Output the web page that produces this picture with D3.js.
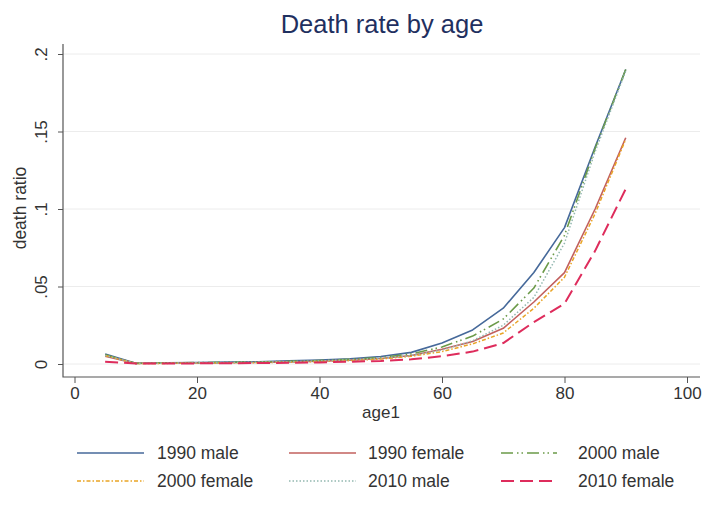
<!DOCTYPE html>
<html>
<head>
<meta charset="utf-8">
<script src="https://cdn.jsdelivr.net/npm/d3@7"></script>
<style>
  body { margin: 0; background: #fff; }
  svg { font-family: "Liberation Sans", Arial, sans-serif; }
</style>
</head>
<body>
<svg id="chart"></svg>
<script>
// data
const ages = [5, 10, 15, 20, 25, 30, 35, 40, 45, 50, 55, 60, 65, 70, 75, 80, 85, 90];
const male1990   = [0.0065, 0.0005, 0.0008, 0.0010, 0.0012, 0.0015, 0.0020, 0.0025, 0.0033, 0.0048, 0.0075, 0.0135, 0.022, 0.036, 0.059, 0.088, 0.140, 0.190];
const female1990 = [0.0050, 0.0004, 0.0005, 0.0006, 0.0008, 0.0010, 0.0013, 0.0018, 0.0025, 0.0035, 0.0055, 0.0095, 0.0145, 0.023, 0.040, 0.059, 0.100, 0.146];
const male2000   = [0.0060, 0.0004, 0.0007, 0.0009, 0.0011, 0.0013, 0.0017, 0.0022, 0.0030, 0.0042, 0.0065, 0.0110, 0.018, 0.029, 0.049, 0.083, 0.139, 0.190];
const female2000 = [0.0055, 0.0003, 0.0004, 0.0005, 0.0007, 0.0009, 0.0012, 0.0016, 0.0022, 0.0032, 0.0050, 0.0080, 0.013, 0.020, 0.036, 0.056, 0.097, 0.145];
const male2010   = [0.0055, 0.0004, 0.0006, 0.0008, 0.0010, 0.0012, 0.0015, 0.0020, 0.0027, 0.0038, 0.0055, 0.0090, 0.015, 0.025, 0.043, 0.078, 0.137, 0.189];
const female2010 = [0.0015, 0.0003, 0.0003, 0.0004, 0.0005, 0.0006, 0.0008, 0.0010, 0.0015, 0.0020, 0.0030, 0.0050, 0.008, 0.0135, 0.027, 0.039, 0.073, 0.113];

const seriesNames = ['1990 male', '1990 female', '2000 male', '2000 female', '2010 male', '2010 female'];
const seriesValues = [male1990, female1990, male2000, female2000, male2010, female2010];
const xTicks = [0, 20, 40, 60, 80, 100];
const yTicks = [0, 0.05, 0.1, 0.15, 0.2];
const yTickLabels = ['0', '.05', '.1', '.15', '.2'];

// styles per series
const colors = ['#46699a', '#c2605e', '#6b9a48', '#e9a425', '#93b8b0', '#de2c5c'];
const dashes = [null, null, '12,4,1.5,3,1.5,4', '4,2,1.5,2', '1.5,2', '13,6'];
const widths = [1.6, 1.6, 1.6, 1.5, 1.5, 2];

let width = 703
let height = 516

let svg = d3.select('#chart')
  .attr('width', width)
  .attr('height', height)

let plotLeft = 63, plotRight = 700, plotTop = 44, plotBottom = 377

let xScale = d3.scaleLinear().domain([0, 100]).range([74.5, 687])
let yScale = d3.scaleLinear().domain([0, 0.2]).range([364, 54])

// grid
svg.append('g')
  .selectAll('line')
  .data(yTicks)
  .enter()
  .append('line')
  .attr('x1', plotLeft)
  .attr('x2', plotRight)
  .attr('y1', d => yScale(d))
  .attr('y2', d => yScale(d))
  .style('stroke', '#ececec')
  .style('stroke-width', 1)

// axes
let xAxis = d3.axisBottom(xScale).tickValues(xTicks).tickSize(6).tickPadding(4)
let yAxis = d3.axisLeft(yScale).tickValues(yTicks).tickSize(5).tickFormat((d, i) => yTickLabels[i])

let gx = svg.append('g')
  .attr('transform', `translate(0, ${plotBottom})`)
  .call(xAxis)
gx.select('.domain').remove()
gx.selectAll('line').style('stroke', '#555')
gx.selectAll('text')
  .style('font-size', '17px')
  .style('font-family', '"Liberation Sans", Arial, sans-serif')
  .style('fill', '#333')

let gy = svg.append('g')
  .attr('transform', `translate(${plotLeft}, 0)`)
  .call(yAxis)
gy.select('.domain').remove()
gy.selectAll('line').style('stroke', '#555')
gy.selectAll('text')
  .attr('x', 0)
  .attr('y', 0)
  .attr('dy', 0)
  .attr('transform', 'translate(-22, 0) rotate(-90)')
  .style('text-anchor', 'middle')
  .style('dominant-baseline', 'central')
  .style('font-size', '17px')
  .style('font-family', '"Liberation Sans", Arial, sans-serif')
  .style('fill', '#333')

svg.append('path')
  .attr('d', `M${plotLeft},${plotTop}V${plotBottom}H${plotRight}`)
  .style('fill', 'none')
  .style('stroke', '#555')
  .style('stroke-width', 1.2)

// lines
let line = d3.line()
  .x((d, i) => xScale(ages[i]))
  .y(d => yScale(d))

svg.append('g')
  .selectAll('path')
  .data(seriesValues)
  .enter()
  .append('path')
  .attr('d', d => line(d))
  .style('fill', 'none')
  .style('stroke', (d, i) => colors[i])
  .style('stroke-width', (d, i) => widths[i])
  .style('stroke-dasharray', (d, i) => dashes[i])
  .style('stroke-linejoin', 'round')

// titles
svg.append('text')
  .attr('x', 382)
  .attr('y', 33)
  .style('text-anchor', 'middle')
  .style('font-size', '25.5px')
  .style('fill', '#1f3060')
  .text('Death rate by age')

svg.append('text')
  .attr('x', 381)
  .attr('y', 418)
  .style('text-anchor', 'middle')
  .style('font-size', '17px')
  .style('fill', '#333')
  .text('age1')

svg.append('text')
  .attr('transform', 'translate(26, 208) rotate(-90)')
  .style('text-anchor', 'middle')
  .style('font-size', '17.5px')
  .style('fill', '#333')
  .text('death ratio')

// legend
let legX = [77, 289, 501]
let legTextX = [157, 368, 578]
let legY = [453, 481]
let legend = svg.append('g')
  .selectAll('g')
  .data(seriesNames)
  .enter()
  .append('g')
  .attr('transform', (d, i) => `translate(0, ${legY[Math.floor(i / 3)]})`)

legend.append('line')
  .attr('x1', (d, i) => legX[i % 3])
  .attr('x2', (d, i) => legX[i % 3] + (i % 3 == 2 ? 56 : 67))
  .attr('y1', 0)
  .attr('y2', 0)
  .style('stroke', (d, i) => colors[i])
  .style('stroke-width', (d, i) => widths[i])
  .style('stroke-dasharray', (d, i) => dashes[i])

legend.append('text')
  .attr('x', (d, i) => legTextX[i % 3])
  .attr('y', 0)
  .attr('dy', '0.35em')
  .style('font-size', '17.5px')
  .style('fill', '#333')
  .text(d => d)
</script>
</body>
</html>
